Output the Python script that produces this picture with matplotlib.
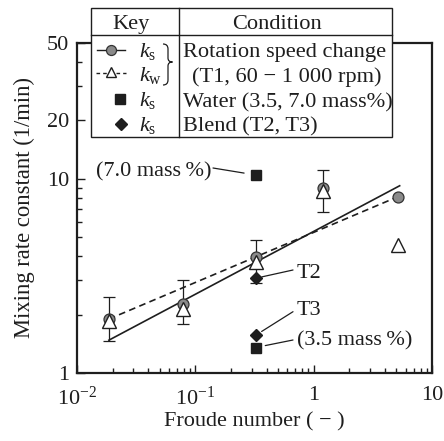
import matplotlib
matplotlib.use('Agg')
import matplotlib.pyplot as plt
from matplotlib.path import Path
from matplotlib.patches import PathPatch, Rectangle
from matplotlib.ticker import FixedLocator, FixedFormatter, NullFormatter

plt.rcParams['font.family'] = ['Liberation Serif', 'DejaVu Serif']
plt.rcParams['mathtext.fontset'] = 'custom'
plt.rcParams['mathtext.rm'] = 'Liberation Serif'
plt.rcParams['mathtext.it'] = 'Liberation Serif:italic'
plt.rcParams['mathtext.bf'] = 'Liberation Serif:bold'

# ---------------- data ----------------
fr_t1 = [0.0186, 0.0791, 0.324, 1.21, 5.15]          # Froude number, T1 rotation speed change
ks_t1 = [1.90, 2.27, 3.97, 8.91, 8.08]               # k_s (circles)
kw_t1 = [1.85, 2.13, 3.75, 8.60, 4.56]               # k_w (triangles)
err_low = [1.47, 1.79, 2.90, 6.72]                   # error bar lower ends (first 4 points)
err_high = [2.46, 3.02, 4.84, 11.08]                 # error bar upper ends

fit_fr_s = [0.0186, 5.33]                            # solid fit line (k_s)
fit_ks = [1.48, 9.2]
fit_fr_w = [0.0186, 5.15]                            # dashed fit line (k_w)
fit_kw = [1.90, 8.08]

fr_water = [0.324, 0.324]                            # water, 3.5 / 7.0 mass%
ks_water = [1.357, 10.45]
water_labels = ['(3.5 mass\u2009%)', '(7.0 mass\u2009%)']

fr_blend = [0.324, 0.324]                            # blend T2, T3
ks_blend = [3.08, 1.57]
blend_labels = ['T2', 'T3']

xticks = [0.01, 0.1, 1, 10]
xticklabels = ['$10^{-2}$', '$10^{-1}$', '1', '10']
xminor = [m * d for d in (0.01, 0.1, 1) for m in range(2, 10)]
yticks = [1, 10, 20, 50]
yticklabels = ['1', '10', '20', '50']
yminor = [2, 3, 4, 5, 6, 7, 8, 9, 30, 40]

dark = '#1e1e1e'
gray = '#8a8a8a'
FS = 16
FS_T = 16.1

# ---------------- figure ----------------
W, H = 444, 441
fig = plt.figure(figsize=(W / 100, H / 100), dpi=100)
ax = fig.add_axes([77 / W, 1 - 373.3 / H, 355 / W, 330.6 / H])
ax.set_xscale('log')
ax.set_yscale('log')
ax.set_xlim(0.01, 10)
ax.set_ylim(1, 50)

ax.xaxis.set_major_locator(FixedLocator(xticks))
ax.xaxis.set_major_formatter(FixedFormatter(xticklabels))
ax.xaxis.set_minor_locator(FixedLocator(xminor))
ax.xaxis.set_minor_formatter(NullFormatter())
ax.yaxis.set_major_locator(FixedLocator(yticks))
ax.yaxis.set_major_formatter(FixedFormatter(yticklabels))
ax.yaxis.set_minor_locator(FixedLocator(yminor))
ax.yaxis.set_minor_formatter(NullFormatter())

ax.tick_params(which='both', direction='in', top=False, right=False,
               color=dark, width=1.0, labelsize=FS, labelcolor=dark)
ax.tick_params(which='major', length=5.8)
ax.tick_params(which='minor', length=3.6)
ax.tick_params(axis='y', pad=5.5)
ax.tick_params(axis='x', pad=9.5)
for s in ax.spines.values():
    s.set_linewidth(1.6)
    s.set_color(dark)

# fit lines
ax.plot(fit_fr_s, fit_ks, '-', color=dark, lw=1.2, zorder=2)
ax.plot(fit_fr_w, fit_kw, color=dark, lw=1.2, ls=(0, (4, 2.6)), zorder=2)

# error bars
yerr = [[k - l for k, l in zip(kw_t1[:4], err_low)],
        [h - k for k, h in zip(kw_t1[:4], err_high)]]
ax.errorbar(fr_t1[:4], kw_t1[:4], yerr=yerr, fmt='none', ecolor=dark,
            elinewidth=0.9, capsize=4.2, capthick=0.9, zorder=2.5)

# T1 markers
ax.plot(fr_t1, ks_t1, 'o', ms=7.9, mfc=gray, mec='#333333', mew=0.9, zorder=3)
ax.plot(fr_t1, kw_t1, '^', ms=9.4, mfc='white', mec=dark, mew=1.0, zorder=4)

# water and blend
ax.plot(fr_water, ks_water, 's', ms=7.4, mfc=dark, mec=dark, zorder=4)
ax.plot(fr_blend, ks_blend, 'D', ms=6.3, mfc=dark, mec=dark, zorder=4)

ax.set_xlabel('Froude number ( \u2212 )', fontsize=FS, color=dark)
ax.set_ylabel('Mixing rate constant (1/min)', fontsize=16.3, color=dark)
ax.xaxis.set_label_coords(0.5, (373.3 - 422) / 330.6)
ax.xaxis.label.set_va('center')
ax.yaxis.set_label_coords((24 - 77) / 355, 0.5)
ax.yaxis.label.set_va('center')

# ---------------- overlay (pixel coords) ----------------
ov = fig.add_axes([0, 0, 1, 1], zorder=5)
ov.set_xlim(0, W)
ov.set_ylim(H, 0)
ov.axis('off')
ov.patch.set_alpha(0)

# annotation texts and leader lines
ov.text(211, 176, water_labels[1], ha='right', va='baseline', fontsize=FS, color=dark)
ov.text(296.5, 345.7, water_labels[0], ha='left', va='baseline', fontsize=FS, color=dark)
ov.text(296.5, 277.7, blend_labels[0], ha='left', va='baseline', fontsize=FS, color=dark)
ov.text(296.5, 315, blend_labels[1], ha='left', va='baseline', fontsize=FS, color=dark)

lp = dict(arrowstyle='-', color=dark, lw=0.9, shrinkA=0)
ax.annotate('', xy=(fr_water[1], ks_water[1]), xytext=(213, 168), textcoords=ov.transData,
            arrowprops=dict(lp, shrinkB=8.5))
ax.annotate('', xy=(fr_water[0], ks_water[0]), xytext=(293, 340), textcoords=ov.transData,
            arrowprops=dict(lp, shrinkB=7.0))
ax.annotate('', xy=(fr_blend[0], ks_blend[0]), xytext=(293, 270), textcoords=ov.transData,
            arrowprops=dict(lp, shrinkB=4.5))
ax.annotate('', xy=(fr_blend[1], ks_blend[1]), xytext=(293, 311.7), textcoords=ov.transData,
            arrowprops=dict(lp, shrinkB=5.0))

# key table
tl, tr, tt, tb, tm, tc = 91, 392, 8, 137, 35, 179
ov.add_patch(Rectangle((tl, tt), tr - tl, tb - tt, facecolor='white', edgecolor=dark, lw=1.0))
ov.plot([tl, tr], [tm, tm], color=dark, lw=1.0)
ov.plot([tc, tc], [tt, tb], color=dark, lw=1.0)
ov.text(131, 29.3, 'Key', ha='center', va='baseline', fontsize=FS_T, color=dark)
ov.text(277, 29.3, 'Condition', ha='center', va='baseline', fontsize=FS_T, color=dark)

conds = ['Rotation speed change', '(T1, 60 \u2212 1 000 rpm)',
         'Water (3.5, 7.0 mass%)', 'Blend (T2, T3)']
cond_x = [183, 192, 182.5, 183]
cond_y = [57.3, 81.7, 107.3, 131.7]
for t, x, y in zip(conds, cond_x, cond_y):
    ov.text(x, y, t, ha='left', va='baseline', fontsize=FS_T, color=dark)

keys = ['$k_{\\mathrm{s}}$', '$k_{\\mathrm{w}}$', '$k_{\\mathrm{s}}$', '$k_{\\mathrm{s}}$']
key_y = [57.3, 80.7, 106.3, 131.3]
for t, y in zip(keys, key_y):
    ov.text(139, y, t, ha='left', va='baseline', fontsize=FS_T, color=dark)

ov.plot([97, 125], [50, 50], '-', color=dark, lw=1.0)
ov.plot([111], [50], 'o', ms=7.2, mfc=gray, mec='#333333', mew=0.9)
ov.plot([96, 126], [73, 73], color=dark, lw=1.0, ls=(0, (2.6, 2.2)))
ov.plot([111], [72], '^', ms=7.6, mfc='white', mec=dark, mew=1.0)
ov.plot([120], [99], 's', ms=6.5, mfc=dark, mec=dark)
ov.plot([121], [124], 'D', ms=6.0, mfc=dark, mec=dark)

brace = Path([(163, 44), (168, 44), (168, 49), (168, 58), (168, 62), (172.5, 62),
              (168, 62), (168, 66), (168, 80), (168, 85), (163, 85)],
             [Path.MOVETO, Path.CURVE3, Path.CURVE3, Path.LINETO, Path.CURVE3, Path.CURVE3,
              Path.CURVE3, Path.CURVE3, Path.LINETO, Path.CURVE3, Path.CURVE3])
ov.add_patch(PathPatch(brace, facecolor='none', edgecolor=dark, lw=0.9))

fig.savefig('out.png', dpi=100)
